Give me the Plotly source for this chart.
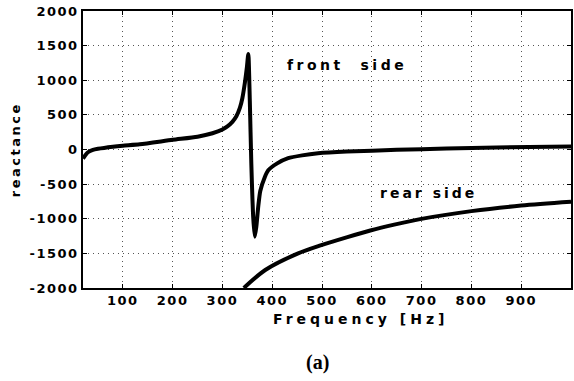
import plotly.graph_objects as go

freq_front = [20, 25, 30, 40, 50, 80, 100, 134, 200, 250, 280, 300, 310, 320, 328, 335, 340, 345, 349, 352, 355, 358, 362, 365, 368, 372, 376, 385, 392, 410, 432, 460, 492, 550, 650, 750, 850, 1000]
react_front = [-130, -80, -40, -5, 10, 40, 55, 75, 140, 185, 235, 290, 335, 400, 480, 600, 740, 960, 1180, 1380, 700, -200, -1000, -1260, -1120, -820, -600, -400, -300, -200, -125, -85, -55, -30, -5, 15, 30, 45]

freq_rear = [343, 386, 452, 497, 551, 597, 645, 697, 800, 900, 1000]
react_rear = [-2000, -1740, -1500, -1385, -1265, -1170, -1085, -1005, -890, -810, -755]

x_ticks = [100, 200, 300, 400, 500, 600, 700, 800, 900]
y_ticks = [-2000, -1500, -1000, -500, 0, 500, 1000, 1500, 2000]


def spaced(s, px):
    return '<span style="letter-spacing:%spx">%s</span>' % (px, s)


fnt = dict(family="DejaVu Sans", size=13, color="black", weight="bold")

fig = go.Figure()
fig.add_trace(go.Scatter(x=freq_front, y=react_front, mode="lines",
                         line=dict(color="black", width=4, shape="spline", smoothing=0.6),
                         showlegend=False))
fig.add_trace(go.Scatter(x=freq_rear, y=react_rear, mode="lines",
                         line=dict(color="black", width=4, shape="spline", smoothing=0.8),
                         showlegend=False))

grid = dict(showgrid=True, gridcolor="#555555", griddash="1px,4px", gridwidth=1)
axis_common = dict(showline=True, linecolor="black", linewidth=1.5, mirror="ticks",
                   ticks="inside", ticklen=4, tickcolor="black", zeroline=False,
                   tickfont=fnt, **grid)

fig.update_layout(
    width=574, height=381,
    margin=dict(l=83, r=1, t=11, b=93),
    paper_bgcolor="white", plot_bgcolor="white",
    font=fnt,
    xaxis=dict(range=[20, 1000], tickvals=x_ticks,
               ticktext=[spaced(str(v), 1.5) for v in x_ticks], **axis_common),
    yaxis=dict(range=[-2000, 2000], tickvals=y_ticks,
               ticktext=[spaced(str(v), 1.5) for v in y_ticks], **axis_common),
)

W, H = 574, 381
l, r, t, b = 83, 1, 11, 93
pw, ph = W - l - r, H - t - b


def px_ann(text, px, py, size, family="DejaVu Sans", weight="bold", angle=0):
    return dict(text=text, x=(px - l) / pw, y=(H - b - py) / ph, xref="paper", yref="paper",
                xanchor="center", yanchor="middle", showarrow=False, textangle=angle,
                font=dict(family=family, size=size, color="black", weight=weight))


fig.update_layout(annotations=[
    dict(text=spaced("front  side", 3.5), x=551, y=1220, xref="x", yref="y", showarrow=False,
         xanchor="center", yanchor="middle",
         font=dict(family="DejaVu Sans", size=14, color="black", weight="bold")),
    dict(text=spaced("rear side", 3), x=714, y=-628, xref="x", yref="y", showarrow=False,
         xanchor="center", yanchor="middle",
         font=dict(family="DejaVu Sans", size=14, color="black", weight="bold")),
    px_ann(spaced("Frequency [Hz]", 4), 362, 319, 14),
    px_ann(spaced("reactance", 2.5), 15, 150, 13, angle=-90),
    px_ann("(a)", 318, 362, 20, family="Liberation Serif", weight="bold"),
])

fig.write_html("out.html")
